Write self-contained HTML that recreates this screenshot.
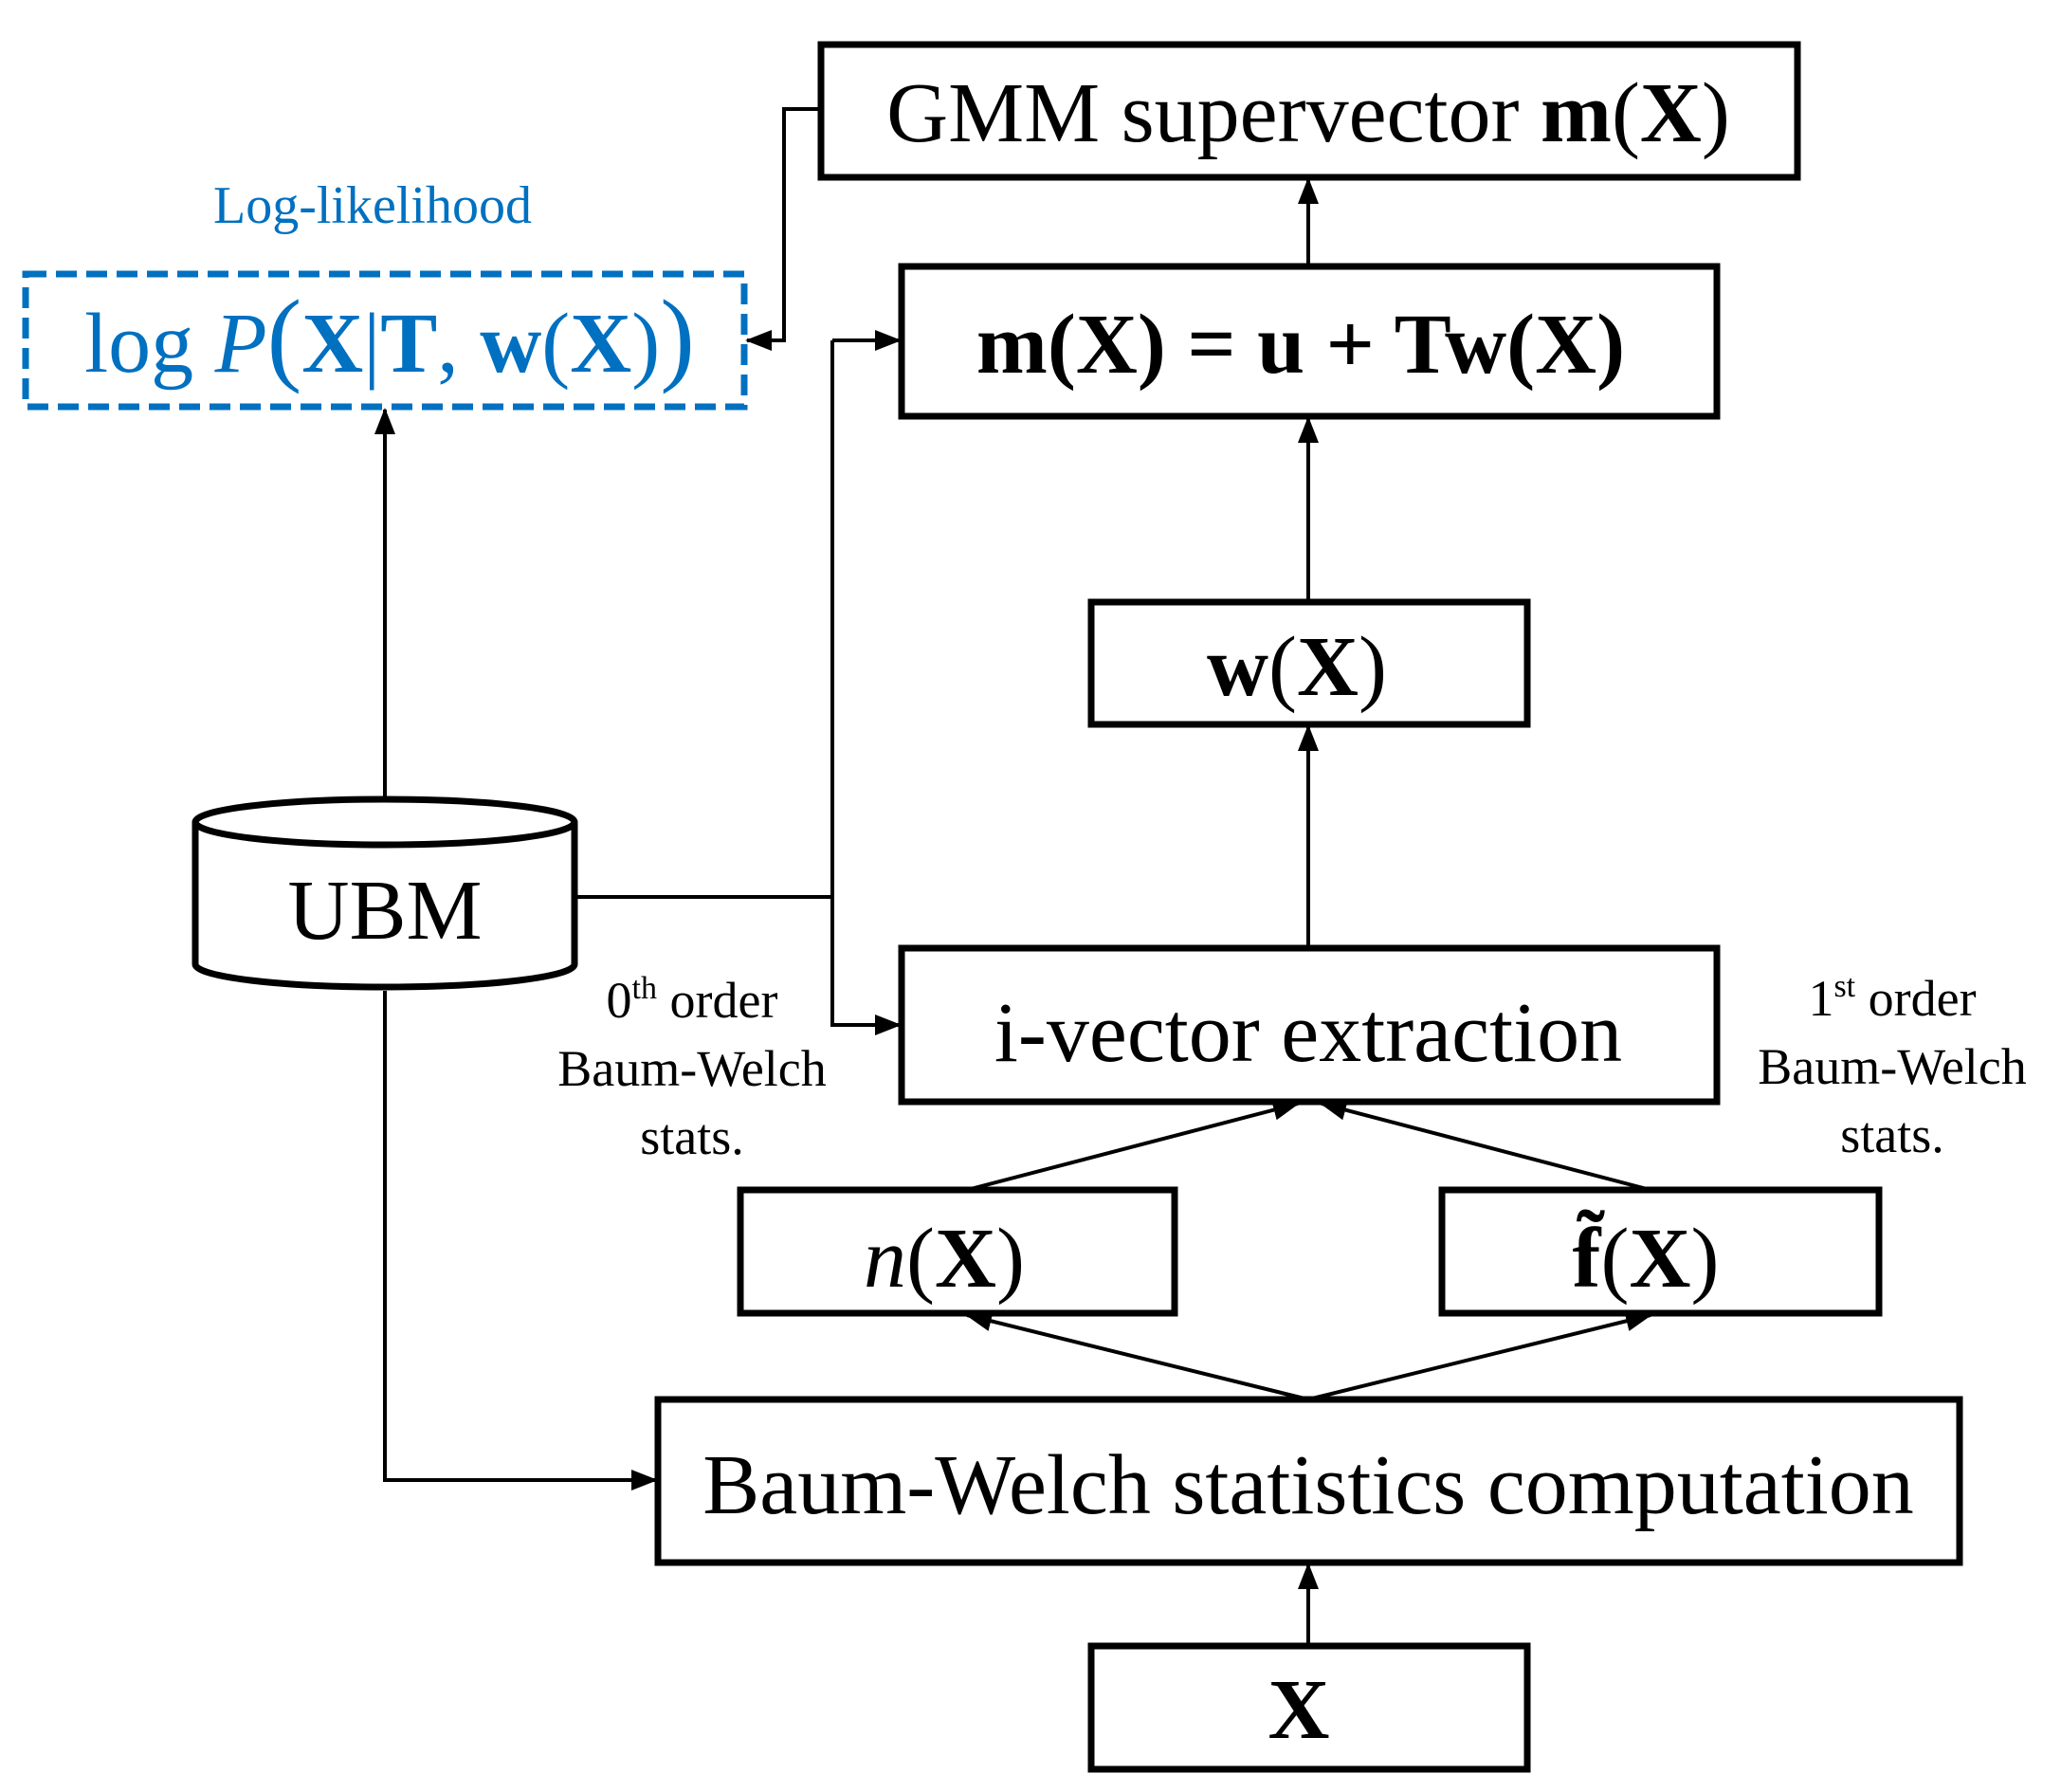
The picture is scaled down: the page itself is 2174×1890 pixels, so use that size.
<!DOCTYPE html>
<html><head><meta charset="utf-8"><style>html,body{margin:0;padding:0;background:#fff}svg{display:block}</style></head>
<body>
<svg width="2174" height="1890" viewBox="0 0 2174 1890" xmlns="http://www.w3.org/2000/svg" font-family="Liberation Serif, serif">
<defs>
<marker id="b" markerWidth="28" markerHeight="28" refX="26" refY="14" orient="auto" markerUnits="userSpaceOnUse"><path d="M0,3 L28,14 L0,25 z" fill="#000"/></marker></defs>
<g transform="translate(-4,-3)">
<g fill="none" stroke="#000" stroke-width="7">
<rect x="870" y="50" width="1030" height="140"/>
<rect x="955" y="284" width="860" height="158"/>
<rect x="1155" y="638" width="460" height="129"/>
<rect x="955" y="1003" width="860" height="162"/>
<rect x="785" y="1258" width="458" height="130"/>
<rect x="1525" y="1258" width="461" height="130"/>
<rect x="698" y="1479" width="1373" height="172"/>
<rect x="1155" y="1739" width="460" height="130"/>
<path d="M210,870 L210,1020 A200,24 0 0 0 610,1020 L610,870"/>
<ellipse cx="410" cy="870" rx="200" ry="24"/>
</g>
<rect x="31" y="292" width="758" height="140" fill="none" stroke="#0070C0" stroke-width="7" stroke-dasharray="22,10"/>
<g fill="none" stroke="#000" stroke-width="4">
<path d="M870,118 H831 V362 H792" marker-end="url(#b)"/>
<path d="M410,846 V435" marker-end="url(#b)"/>
<path d="M610,949 H882"/>
<path d="M882,362 V1084 H953" marker-end="url(#b)"/>
<path d="M882,362 H953" marker-end="url(#b)"/>
<path d="M410,1048 V1564 H696" marker-end="url(#b)"/>
<path d="M1384,1739 V1653" marker-end="url(#b)"/>
<path d="M1384,1003 V769" marker-end="url(#b)"/>
<path d="M1384,638 V444" marker-end="url(#b)"/>
<path d="M1384,284 V192" marker-end="url(#b)"/>
<path d="M1384,1479 L1024,1390" marker-end="url(#b)"/>
<path d="M1384,1479 L1745,1390" marker-end="url(#b)"/>
<path d="M1024,1258 L1373,1167" marker-end="url(#b)"/>
<path d="M1745,1258 L1398,1167" marker-end="url(#b)"/>
</g>
<g font-size="90" text-anchor="middle" fill="#000">
<text x="1384" y="152">GMM supervector <tspan font-weight="bold">m</tspan>(<tspan font-weight="bold">X</tspan>)</text>
<text x="1376" y="396" font-weight="bold">m(X) = u + Tw(X)</text>
<text x="1372" y="736"><tspan font-weight="bold">w</tspan>(<tspan font-weight="bold">X</tspan>)</text>
<text x="1384" y="1122">i-vector extraction</text>
<text x="1000" y="1360"><tspan font-style="italic">n</tspan>(<tspan font-weight="bold">X</tspan>)</text>
<text x="1740" y="1360"><tspan font-weight="bold">f̃</tspan>(<tspan font-weight="bold">X</tspan>)</text>
<text x="1384" y="1599">Baum-Welch statistics computation</text>
<text x="1374" y="1836" font-weight="bold">X</text>
<text x="410" y="993">UBM</text>
</g>
<g font-size="54" text-anchor="middle" fill="#000">
<text x="734" y="1076">0<tspan font-size="34" dy="-20">th</tspan><tspan dy="20"> order</tspan></text>
<text x="734" y="1148">Baum-Welch</text>
<text x="734" y="1220">stats.</text>
<text x="2000" y="1074">1<tspan font-size="34" dy="-20">st</tspan><tspan dy="20"> order</tspan></text>
<text x="2000" y="1146">Baum-Welch</text>
<text x="2000" y="1218">stats.</text>
</g>
<text x="397" y="238" font-size="56" text-anchor="middle" fill="#0070C0">Log-likelihood</text>
<text x="415" y="395" font-size="90" text-anchor="middle" fill="#0070C0">log <tspan font-style="italic">P</tspan><tspan font-size="110">(</tspan><tspan font-weight="bold">X</tspan>|<tspan font-weight="bold">T</tspan>, <tspan font-weight="bold">w</tspan>(<tspan font-weight="bold">X</tspan>)<tspan font-size="110">)</tspan></text>
</g>
</svg>
</body></html>
